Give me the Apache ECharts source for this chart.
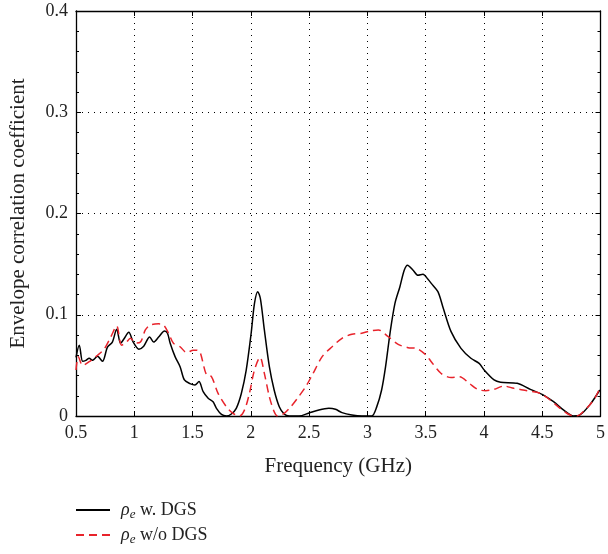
<!DOCTYPE html>
<html>
<head>
<meta charset="utf-8">
<script src="https://cdn.jsdelivr.net/npm/echarts@6/dist/echarts.min.js"></script>
<style>html,body{margin:0;padding:0;background:#fff}#c{width:608px;height:554px}</style>
</head>
<body>
<div id="c"></div>
<script>
var freqW = [0.5,0.528,0.557,0.585,0.613,0.642,0.684,0.727,0.77,0.812,0.849,0.883,0.911,0.953,0.991,1.039,1.081,1.132,1.166,1.209,1.26,1.285,1.308,1.35,1.393,1.43,1.478,1.52,1.555,1.591,1.634,1.676,1.705,1.748,1.79,1.833,1.875,1.918,1.96,2.003,2.031,2.059,2.082,2.116,2.159,2.2,2.244,2.286,2.329,2.414,2.499,2.584,2.669,2.726,2.782,2.867,2.952,3.037,3.08,3.122,3.156,3.194,3.236,3.279,3.316,3.344,3.392,3.434,3.477,3.52,3.548,3.605,3.647,3.718,3.803,3.888,3.959,4.002,4.087,4.143,4.285,4.398,4.511,4.597,4.682,4.767,4.823,4.908,4.994];
var rhoW = [0.058,0.070,0.054,0.055,0.057,0.055,0.059,0.054,0.068,0.073,0.0856,0.0718,0.076,0.0826,0.073,0.066,0.069,0.078,0.073,0.078,0.084,0.0817,0.0718,0.0586,0.0487,0.0356,0.032,0.0306,0.034,0.024,0.0175,0.014,0.0076,0.0016,0,0.002,0.0076,0.022,0.045,0.082,0.111,0.1228,0.116,0.085,0.0487,0.0257,0.0092,0.002,0,0,0.003,0.006,0.0076,0.0066,0.0033,0.001,0,0,0.009,0.0257,0.0487,0.0817,0.111,0.1277,0.144,0.149,0.144,0.139,0.14,0.135,0.131,0.1228,0.108,0.0833,0.0668,0.057,0.052,0.0454,0.0356,0.0333,0.0323,0.0263,0.0207,0.0141,0.006,0,0.001,0.011,0.0257];
var freqWo = [0.5,0.52,0.557,0.613,0.684,0.741,0.798,0.849,0.891,0.925,0.968,1.01,1.053,1.095,1.138,1.209,1.251,1.294,1.336,1.393,1.45,1.506,1.535,1.563,1.62,1.662,1.719,1.79,1.847,1.903,1.946,1.988,2.031,2.079,2.116,2.159,2.2,2.229,2.286,2.343,2.4,2.471,2.527,2.612,2.697,2.782,2.867,2.952,3.023,3.094,3.179,3.264,3.349,3.42,3.505,3.548,3.633,3.718,3.789,3.874,3.945,4.016,4.087,4.172,4.257,4.37,4.483,4.568,4.653,4.738,4.795,4.88,4.951,5.0];
var rhoWo = [0.0454,0.0586,0.050,0.0536,0.060,0.066,0.078,0.089,0.070,0.072,0.0767,0.072,0.073,0.085,0.0899,0.091,0.0899,0.0817,0.0718,0.0684,0.0626,0.065,0.065,0.0635,0.0405,0.0388,0.0224,0.0092,0.0026,0,0.006,0.0224,0.0454,0.058,0.0421,0.019,0.0043,0,0.0026,0.0092,0.0175,0.029,0.0405,0.0586,0.0684,0.0767,0.0807,0.0817,0.084,0.085,0.0783,0.0708,0.0675,0.0668,0.060,0.0536,0.042,0.038,0.0388,0.0323,0.0263,0.025,0.0263,0.0296,0.0273,0.025,0.0224,0.0158,0.0076,0.001,0,0.0076,0.0175,0.029];
var xTickLabels = ['0.5','1','1.5','2','2.5','3','3.5','4','4.5','5'];
var yTickLabels = ['0','0.1','0.2','0.3','0.4'];
var nameW = 'ρe w. DGS';
var nameWo = 'ρe w/o DGS';

function pairs(xs, ys){ return xs.map(function(x,i){ return [x, ys[i]]; }); }
var FONT = '"Liberation Serif", "Times New Roman", serif';
var RED = '#e8232b';

var chart = echarts.init(document.getElementById('c'), null, {renderer:'canvas'});
var baseX = {
  type:'value', min:0.5, max:5, interval:0.5,
  axisLine:{show:true, onZero:false, lineStyle:{color:'#000', width:1.3}},
  axisTick:{show:true, inside:true, length:5, lineStyle:{color:'#000'}},
  splitLine:{show:false}
};
var baseY = {
  type:'value', min:0, max:0.4, interval:0.1,
  axisLine:{show:true, onZero:false, lineStyle:{color:'#000', width:1.3}},
  axisTick:{show:true, inside:true, length:5, lineStyle:{color:'#000'}},
  minorTick:{show:true, splitNumber:5, length:3, lineStyle:{color:'#000'}},
  splitLine:{show:false}
};
chart.setOption({
  animation:false,
  backgroundColor:'#fff',
  grid:{left:75, right:4, top:11, bottom:138, containLabel:false},
  xAxis:[
    Object.assign({}, baseX, {
      position:'bottom',
      name:'Frequency (GHz)', nameLocation:'middle', nameGap:40,
      nameTextStyle:{fontFamily:FONT, fontSize:21, color:'#222'},
      axisLabel:{show:true, margin:8, fontFamily:FONT, fontSize:18, color:'#222',
        formatter:function(v){ var i=Math.round((v-0.5)/0.5); return xTickLabels[i]!==undefined?xTickLabels[i]:''; }},
      splitLine:{show:true, lineStyle:{color:'#000', width:1, type:[1,5]}}
    }),
    Object.assign({}, baseX, {position:'top', axisLabel:{show:false}})
  ],
  yAxis:[
    Object.assign({}, baseY, {
      position:'left',
      name:'Envelope correlation coefficient', nameLocation:'middle', nameGap:47,
      nameTextStyle:{fontFamily:FONT, fontSize:21, color:'#222'},
      axisLabel:{show:true, margin:8, fontFamily:FONT, fontSize:18, color:'#222',
        formatter:function(v){ var i=Math.round(v/0.1); return yTickLabels[i]!==undefined?yTickLabels[i]:''; }},
      splitLine:{show:true, lineStyle:{color:'#000', width:1, type:[1,5]}}
    }),
    Object.assign({}, baseY, {position:'right', axisLabel:{show:false}})
  ],
  legend:{
    orient:'vertical', left:75, top:501, padding:0,
    itemWidth:34, itemHeight:14, itemGap:5,
    itemStyle:{opacity:0, borderWidth:0},
    data:[nameW, nameWo],
    formatter:function(name){
      return name===nameW ? '{r|ρ}{s|e}{t| w. DGS}' : '{r|ρ}{s|e}{t| w/o DGS}';
    },
    textStyle:{
      fontFamily:FONT, fontSize:18, color:'#222',
      rich:{
        r:{fontFamily:FONT, fontSize:18, fontStyle:'italic', color:'#222', lineHeight:22, padding:[0,0,0,6]},
        s:{fontFamily:FONT, fontSize:13, fontStyle:'italic', color:'#222', lineHeight:13, verticalAlign:'bottom'},
        t:{fontFamily:FONT, fontSize:18, color:'#222', lineHeight:22}
      }
    }
  },
  series:[
    {name:nameW, type:'line', xAxisIndex:0, yAxisIndex:0, data:pairs(freqW, rhoW),
      showSymbol:false, symbol:'none', smooth:0.3,
      lineStyle:{color:'#000', width:1.5}, itemStyle:{color:'#000'}},
    {name:nameWo, type:'line', xAxisIndex:0, yAxisIndex:0, data:pairs(freqWo, rhoWo),
      showSymbol:false, symbol:'none', smooth:0.3,
      lineStyle:{color:RED, width:1.5, type:[8,5]}, itemStyle:{color:RED}}
  ]
});
</script>
</body>
</html>
